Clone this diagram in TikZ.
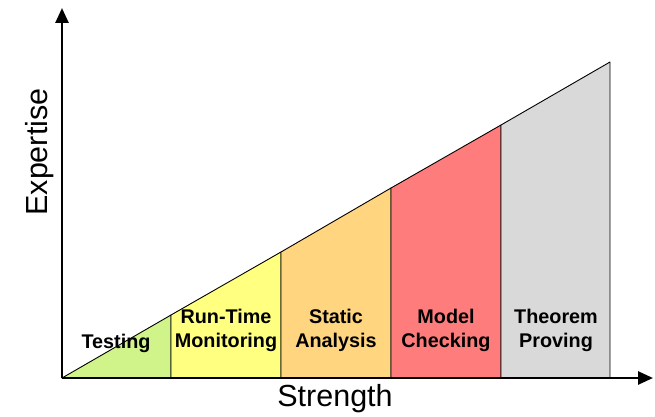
\documentclass[tikz,border=0pt]{standalone}
\usepackage{fontspec}
\setmainfont{Liberation Sans}
\usetikzlibrary{arrows.meta}
\definecolor{testgreen}{HTML}{D0F48A}
\definecolor{rtyellow}{HTML}{FFFF80}
\definecolor{saorange}{HTML}{FFD580}
\definecolor{mcred}{HTML}{FF7C7C}
\definecolor{tpgray}{HTML}{D9D9D9}
\tikzset{
  band/.style = {draw, line width=0.9pt, line join=round},
  tag/.style = {font=\bfseries\fontsize{19.8}{24}\selectfont, align=center, inner sep=0pt},
  axis/.style = {line width=2.6pt, -{Triangle[length=15pt,width=13pt]}},
  axlabel/.style = {font=\fontsize{30.5}{33}\selectfont, inner sep=0pt}
}
\begin{document}
\begin{tikzpicture}[x=1pt,y=1pt]
\useasboundingbox (0,0) rectangle (655,416);
% corners of the bands
\coordinate (O) at (62,38);
\coordinate (b1) at (171,38);  \coordinate (t1) at (171,101);
\coordinate (b2) at (281,38);  \coordinate (t2) at (281,164);
\coordinate (b3) at (391,38);  \coordinate (t3) at (391,228);
\coordinate (b4) at (501,38);  \coordinate (t4) at (501,291);
\coordinate (b5) at (610,38);  \coordinate (t5) at (610,354);
\coordinate (ytip) at (62,408);
\coordinate (xtip) at (653,38);
% bands
\draw[band, fill=testgreen] (O) -- (t1) -- (b1) -- cycle;
\draw[band, fill=rtyellow] (b1) -- (t1) -- (t2) -- (b2) -- cycle;
\draw[band, fill=saorange] (b2) -- (t2) -- (t3) -- (b3) -- cycle;
\draw[band, fill=mcred] (b3) -- (t3) -- (t4) -- (b4) -- cycle;
\draw[band, fill=tpgray] (b4) -- (t4) -- (t5) -- (b5) -- cycle;
% labels
\node[tag] (testing) at (116,73) {Testing};
\node[tag] (runtime) at (226,86) {Run-Time\\Monitoring};
\node[tag] (static) at (336,86) {Static\\Analysis};
\node[tag] (model) at (446,86) {Model\\Checking};
\node[tag] (theorem) at (556,86) {Theorem\\Proving};
% axes
\draw[axis] (O) -- (ytip);
\draw[axis] (O) -- (xtip);
\node[axlabel] (strength) at (335,17) {Strength};
\node[axlabel, rotate=90] (expertise) at (40,264) {Expertise};
\end{tikzpicture}
\end{document}
